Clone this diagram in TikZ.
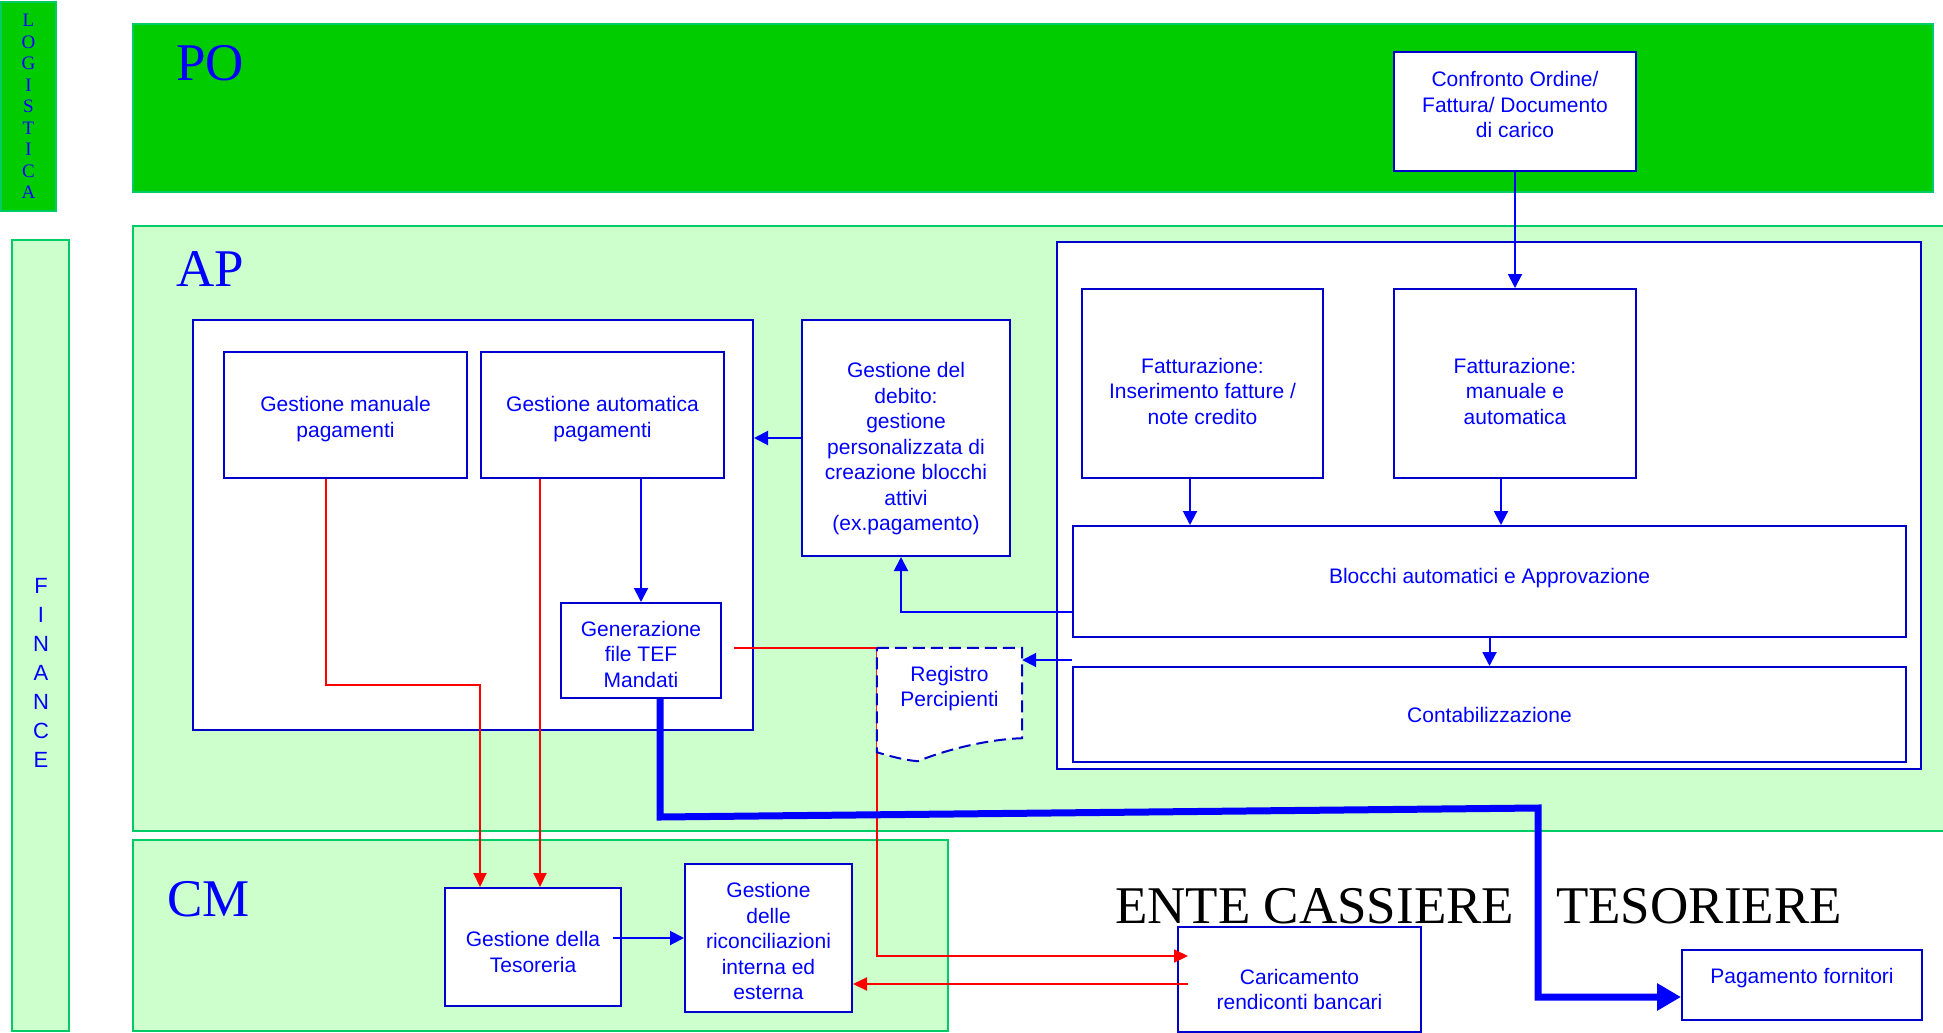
\documentclass[tikz,border=0pt]{standalone}
\usepackage{fontspec}
\setmainfont{Liberation Serif}
\newfontfamily\boxsans{Liberation Sans}
\usetikzlibrary{arrows.meta,calc}
\definecolor{bandgreen}{RGB}{0,204,0}
\definecolor{lightgreen}{RGB}{204,255,204}
\definecolor{bandline}{RGB}{0,204,102}
\definecolor{boxblue}{RGB}{0,0,204}
\definecolor{txtblue}{RGB}{0,0,255}
\definecolor{lineblue}{RGB}{0,0,255}
\definecolor{redline}{RGB}{255,0,0}
\newcommand{\upstrut}[1]{\rule{0pt}{#1}}
\newcommand{\dnstrut}[1]{\rule[-#1]{0pt}{#1}}
\begin{document}
\begin{tikzpicture}[x=1pt,y=-1pt,
  band/.style={draw=bandline, line width=2pt, inner sep=0pt},
  box/.style={draw=boxblue, line width=2pt, fill=white, text=txtblue, inner sep=0pt, align=center,
    font=\boxsans\fontsize{21}{25.5}\selectfont},
  container/.style={draw=boxblue, line width=2pt, fill=white, inner sep=0pt},
  conn/.style={draw=lineblue, line width=2pt, -{Triangle[length=14pt,width=14pt]}},
  redconn/.style={draw=redline, line width=2pt, -{Triangle[length=14pt,width=13pt]}},
  bigconn/.style={draw=lineblue, line width=7pt, -{Triangle[length=24pt,width=26pt]}},
  bandlabel/.style={text=txtblue, font=\fontsize{53}{60}\selectfont, inner sep=0pt, anchor=base west},
]
\useasboundingbox (0,0) rectangle (1943,1033);
\fill[white] (0,0) rectangle (1943,1033);
\clip (0,0) rectangle (1943,1033);

% side bands
\node[band, fill=bandgreen, minimum width=55pt, minimum height=209pt, text=txtblue, align=center,
  font=\fontsize{19}{21.5}\selectfont] (logi) at (28.5,106.5) {L\\O\\G\\I\\S\\T\\I\\C\\A};
\node[band, fill=lightgreen, minimum width=57pt, minimum height=791pt] (fin) at (40.5,635.5) {};
\node[text=txtblue, align=center, inner sep=0pt, font=\boxsans\fontsize{22}{29}\selectfont] (fintext) at (41,673) {F\\I\\N\\A\\N\\C\\E};

% swimlanes
\node[band, fill=bandgreen, minimum width=1800pt, minimum height=168pt] (po) at (1033,108) {};
\node[band, fill=lightgreen, minimum width=1827pt, minimum height=605pt] (ap) at (1046.5,528.5) {};
\node[band, fill=lightgreen, minimum width=815pt, minimum height=191pt] (cm) at (540.5,935.5) {};
\node[bandlabel] (polab) at (176,81) {PO};
\node[bandlabel] (aplab) at (176,286) {AP};
\node[bandlabel] (cmlab) at (167,916) {CM};
\node[anchor=base west, inner sep=0pt, font=\fontsize{53}{60}\selectfont] (ente) at (1115,923) {ENTE CASSIERE\hspace{42pt}TESORIERE};

% containers
\node[container, minimum width=560pt, minimum height=410pt] (leftc) at (473,525) {};
\node[container, minimum width=864pt, minimum height=527pt] (rightc) at (1489,505.5) {};

% boxes
\node[box, minimum width=243pt, minimum height=126pt] (gman) at (345.5,415) {\upstrut{23pt}Gestione manuale\\pagamenti};
\node[box, minimum width=243pt, minimum height=126pt] (gaut) at (602.5,415) {\upstrut{23pt}Gestione automatica\\pagamenti};
\node[box, minimum width=160pt, minimum height=95pt] (gen) at (641,650.5) {\upstrut{23pt}Generazione\\file TEF\\Mandati};
\node[box, minimum width=208pt, minimum height=236pt] (deb) at (906,438) {\upstrut{37pt}Gestione del\\debito:\\gestione\\personalizzata di\\creazione blocchi\\attivi\\(ex.pagamento)};
\node[box, minimum width=241pt, minimum height=189pt] (fins) at (1202.5,383.5) {\upstrut{31pt}Fatturazione:\\Inserimento fatture /\\note credito};
\node[box, minimum width=242pt, minimum height=189pt] (fman) at (1515,383.5) {\upstrut{31pt}Fatturazione:\\manuale e\\automatica};
\node[box, minimum width=833pt, minimum height=111pt] (bloc) at (1489.5,581.5) {Blocchi automatici e Approvazione\dnstrut{11pt}};
\node[box, minimum width=833pt, minimum height=95pt] (cont) at (1489.5,714.5) {Contabilizzazione};
\node[box, minimum width=242pt, minimum height=119pt] (conf) at (1515,111.5) {Confronto Ordine/\\Fattura/ Documento\\di carico\dnstrut{14pt}};
\node[box, minimum width=176pt, minimum height=118pt] (tes) at (533,947) {\upstrut{25pt}Gestione della\\Tesoreria};
\node[box, minimum width=167pt, minimum height=148pt] (ric) at (768.5,938) {\upstrut{22pt}Gestione\\delle\\riconciliazioni\\interna ed\\esterna};
\node[box, minimum width=243pt, minimum height=105pt] (car) at (1299.5,979.5) {\upstrut{35pt}Caricamento\\rendiconti bancari};
\node[box, minimum width=240pt, minimum height=70pt] (pag) at (1802,985) {\upstrut{20pt}Pagamento fornitori\dnstrut{24pt}};

% bend points
\coordinate (r0) at ($(gen.east)+(12,-2.5)$);
\coordinate (r1) at (877,648);
\coordinate (r2) at (877,956);
\coordinate (r3) at ($(car.west)+(11,-23.5)$);
\coordinate (r4) at ($(car.west)+(11,4.5)$);
\coordinate (t1) at ($(tes.north west)+(36,0)$);
\coordinate (t2) at ($(tes.north west)+(96,0)$);
\coordinate (k0) at ($(gen.south)+(19,0)$);
\coordinate (k1) at ($(k0)+(0,118)$);
\coordinate (k2) at (1538,808);
\coordinate (k3) at (1538,997);

% red connectors
\draw[redconn] ([xshift=-20pt]gman.south) |- (t1 |- 0,685) -- (t1);
\draw[redconn] (gaut.south -| t2) -- (t2);
\draw[redconn] (r0) -- (r1) -- (r2) -- (r3);
\draw[redconn] (r4) -- (r4 -| ric.east);

% registro percipienti (document shape)
\node[inner sep=0pt, minimum width=145pt, minimum height=104pt] (reg) at (949.5,700) {};
\draw[draw=boxblue, line width=2pt, dash pattern=on 12pt off 6pt, fill=white]
  (reg.north west) -- (reg.north east) -- ($(reg.south east)+(0,-14)$)
  .. controls ($(reg.south east)+(-32,-13)$) and ($(reg.south east)+(-72,-4)$) .. ($(reg.south west)+(41,9)$)
  .. controls ($(reg.south west)+(28,8)$) and ($(reg.south west)+(13,4)$) .. (reg.south west) -- cycle;
\node[inner sep=0pt, text=txtblue, align=center, font=\boxsans\fontsize{21}{25.5}\selectfont] (regtext) at (reg.center) {\upstrut{20pt}Registro\\Percipienti\dnstrut{32pt}};

% blue connectors
\draw[conn] (conf) -- (fman);
\draw[conn] ([xshift=-12.5pt]fins.south) -- ([xshift=-12.5pt]fins.south |- bloc.north);
\draw[conn] ([xshift=-14pt]fman.south) -- ([xshift=-14pt]fman.south |- bloc.north);
\draw[conn] (bloc) -- (cont);
\draw[conn] (bloc.west |- 0,612) -| ([xshift=-5pt]deb.south);
\draw[conn] (bloc.west |- 0,660) -- (reg.east |- 0,660);
\draw[conn] (deb.west) -- (deb.west -| leftc.east);
\draw[conn] (gaut.south -| gen.north) -- (gen.north);
\draw[conn] ([xshift=-9pt]tes.east |- ric.west) -- (ric.west);
\draw[bigconn] (k0) -- (k1) -- (k2) -- (k3) -- (pag.west |- k3);
\end{tikzpicture}
\end{document}
